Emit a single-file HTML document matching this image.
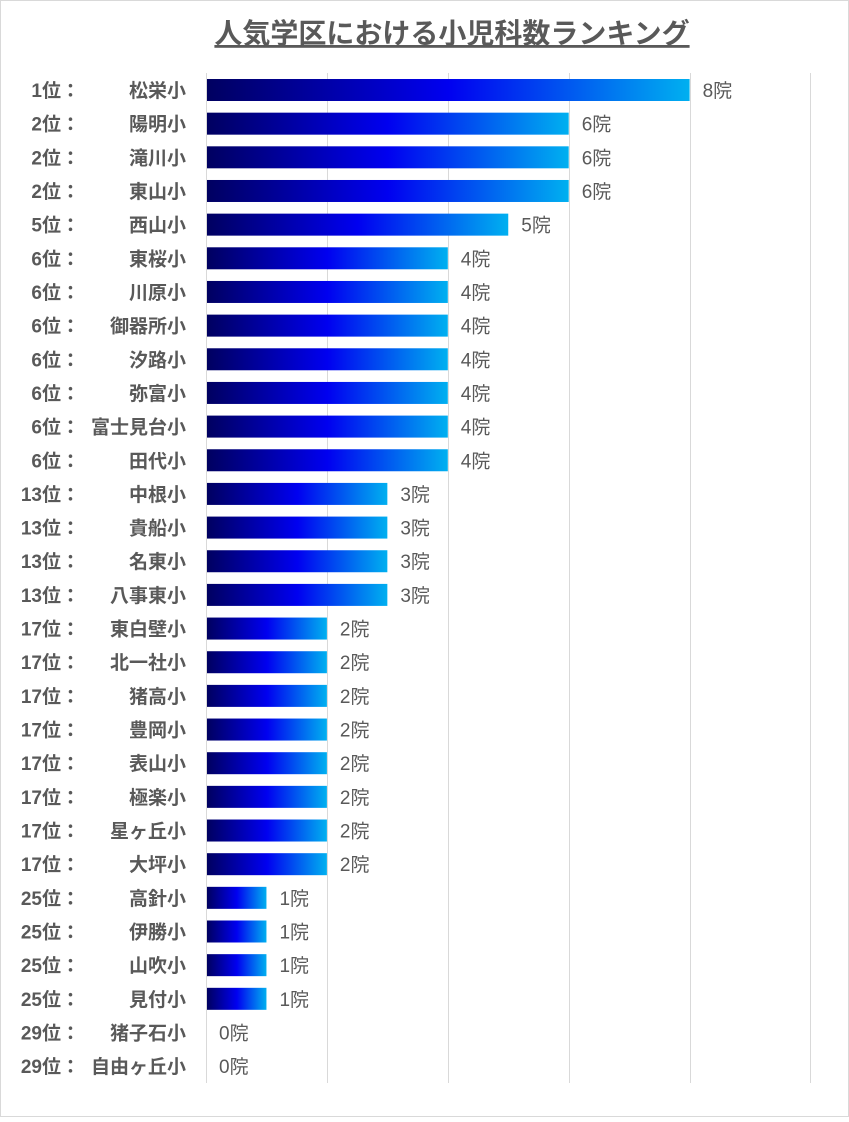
<!DOCTYPE html>
<html><head><meta charset="utf-8"><style>
html,body{margin:0;padding:0;background:#fff}
svg text{font-family:"Liberation Sans","Noto Sans CJK JP",sans-serif;fill:#595959;font-size:19px}
.b{font-weight:bold}
</style></head><body>
<svg width="849" height="1117" viewBox="0 0 849 1117" xmlns="http://www.w3.org/2000/svg">
<defs>
<linearGradient id="g" x1="0" y1="0" x2="1" y2="0">
<stop offset="0" stop-color="#000060"/>
<stop offset="0.5" stop-color="#0000f0"/>
<stop offset="1" stop-color="#00b0f0"/>
</linearGradient>
</defs>
<rect x="0.5" y="0.5" width="848" height="1116" fill="#fff" stroke="#d9d9d9"/>
<text x="452" y="43" text-anchor="middle" style="font-size:28px" class="b" text-decoration="underline">人気学区における小児科数ランキング</text>
<g stroke="#d9d9d9" stroke-width="1">
<line x1="206.5" y1="73" x2="206.5" y2="1083"/>
<line x1="327.5" y1="73" x2="327.5" y2="1083"/>
<line x1="448.5" y1="73" x2="448.5" y2="1083"/>
<line x1="569.5" y1="73" x2="569.5" y2="1083"/>
<line x1="690.5" y1="73" x2="690.5" y2="1083"/>
<line x1="810.5" y1="73" x2="810.5" y2="1083"/>
</g>
<g transform="translate(0,90)"><rect x="207" y="-11" width="482.6" height="22" fill="url(#g)"/><text x="80" y="7" text-anchor="end" class="b">1位：</text><text x="186" y="7" text-anchor="end" class="b">松栄小</text><text x="702.6" y="7">8院</text></g>
<g transform="translate(0,123.66)"><rect x="207" y="-11" width="361.7" height="22" fill="url(#g)"/><text x="80" y="7" text-anchor="end" class="b">2位：</text><text x="186" y="7" text-anchor="end" class="b">陽明小</text><text x="581.7" y="7">6院</text></g>
<g transform="translate(0,157.32)"><rect x="207" y="-11" width="361.7" height="22" fill="url(#g)"/><text x="80" y="7" text-anchor="end" class="b">2位：</text><text x="186" y="7" text-anchor="end" class="b">滝川小</text><text x="581.7" y="7">6院</text></g>
<g transform="translate(0,190.98)"><rect x="207" y="-11" width="361.7" height="22" fill="url(#g)"/><text x="80" y="7" text-anchor="end" class="b">2位：</text><text x="186" y="7" text-anchor="end" class="b">東山小</text><text x="581.7" y="7">6院</text></g>
<g transform="translate(0,224.64)"><rect x="207" y="-11" width="301.25" height="22" fill="url(#g)"/><text x="80" y="7" text-anchor="end" class="b">5位：</text><text x="186" y="7" text-anchor="end" class="b">西山小</text><text x="521.25" y="7">5院</text></g>
<g transform="translate(0,258.3)"><rect x="207" y="-11" width="240.8" height="22" fill="url(#g)"/><text x="80" y="7" text-anchor="end" class="b">6位：</text><text x="186" y="7" text-anchor="end" class="b">東桜小</text><text x="460.8" y="7">4院</text></g>
<g transform="translate(0,291.96)"><rect x="207" y="-11" width="240.8" height="22" fill="url(#g)"/><text x="80" y="7" text-anchor="end" class="b">6位：</text><text x="186" y="7" text-anchor="end" class="b">川原小</text><text x="460.8" y="7">4院</text></g>
<g transform="translate(0,325.62)"><rect x="207" y="-11" width="240.8" height="22" fill="url(#g)"/><text x="80" y="7" text-anchor="end" class="b">6位：</text><text x="186" y="7" text-anchor="end" class="b">御器所小</text><text x="460.8" y="7">4院</text></g>
<g transform="translate(0,359.28)"><rect x="207" y="-11" width="240.8" height="22" fill="url(#g)"/><text x="80" y="7" text-anchor="end" class="b">6位：</text><text x="186" y="7" text-anchor="end" class="b">汐路小</text><text x="460.8" y="7">4院</text></g>
<g transform="translate(0,392.94)"><rect x="207" y="-11" width="240.8" height="22" fill="url(#g)"/><text x="80" y="7" text-anchor="end" class="b">6位：</text><text x="186" y="7" text-anchor="end" class="b">弥富小</text><text x="460.8" y="7">4院</text></g>
<g transform="translate(0,426.6)"><rect x="207" y="-11" width="240.8" height="22" fill="url(#g)"/><text x="80" y="7" text-anchor="end" class="b">6位：</text><text x="186" y="7" text-anchor="end" class="b">富士見台小</text><text x="460.8" y="7">4院</text></g>
<g transform="translate(0,460.26)"><rect x="207" y="-11" width="240.8" height="22" fill="url(#g)"/><text x="80" y="7" text-anchor="end" class="b">6位：</text><text x="186" y="7" text-anchor="end" class="b">田代小</text><text x="460.8" y="7">4院</text></g>
<g transform="translate(0,493.92)"><rect x="207" y="-11" width="180.35" height="22" fill="url(#g)"/><text x="80" y="7" text-anchor="end" class="b">13位：</text><text x="186" y="7" text-anchor="end" class="b">中根小</text><text x="400.35" y="7">3院</text></g>
<g transform="translate(0,527.58)"><rect x="207" y="-11" width="180.35" height="22" fill="url(#g)"/><text x="80" y="7" text-anchor="end" class="b">13位：</text><text x="186" y="7" text-anchor="end" class="b">貴船小</text><text x="400.35" y="7">3院</text></g>
<g transform="translate(0,561.24)"><rect x="207" y="-11" width="180.35" height="22" fill="url(#g)"/><text x="80" y="7" text-anchor="end" class="b">13位：</text><text x="186" y="7" text-anchor="end" class="b">名東小</text><text x="400.35" y="7">3院</text></g>
<g transform="translate(0,594.9)"><rect x="207" y="-11" width="180.35" height="22" fill="url(#g)"/><text x="80" y="7" text-anchor="end" class="b">13位：</text><text x="186" y="7" text-anchor="end" class="b">八事東小</text><text x="400.35" y="7">3院</text></g>
<g transform="translate(0,628.56)"><rect x="207" y="-11" width="119.9" height="22" fill="url(#g)"/><text x="80" y="7" text-anchor="end" class="b">17位：</text><text x="186" y="7" text-anchor="end" class="b">東白壁小</text><text x="339.9" y="7">2院</text></g>
<g transform="translate(0,662.22)"><rect x="207" y="-11" width="119.9" height="22" fill="url(#g)"/><text x="80" y="7" text-anchor="end" class="b">17位：</text><text x="186" y="7" text-anchor="end" class="b">北一社小</text><text x="339.9" y="7">2院</text></g>
<g transform="translate(0,695.88)"><rect x="207" y="-11" width="119.9" height="22" fill="url(#g)"/><text x="80" y="7" text-anchor="end" class="b">17位：</text><text x="186" y="7" text-anchor="end" class="b">猪高小</text><text x="339.9" y="7">2院</text></g>
<g transform="translate(0,729.54)"><rect x="207" y="-11" width="119.9" height="22" fill="url(#g)"/><text x="80" y="7" text-anchor="end" class="b">17位：</text><text x="186" y="7" text-anchor="end" class="b">豊岡小</text><text x="339.9" y="7">2院</text></g>
<g transform="translate(0,763.2)"><rect x="207" y="-11" width="119.9" height="22" fill="url(#g)"/><text x="80" y="7" text-anchor="end" class="b">17位：</text><text x="186" y="7" text-anchor="end" class="b">表山小</text><text x="339.9" y="7">2院</text></g>
<g transform="translate(0,796.86)"><rect x="207" y="-11" width="119.9" height="22" fill="url(#g)"/><text x="80" y="7" text-anchor="end" class="b">17位：</text><text x="186" y="7" text-anchor="end" class="b">極楽小</text><text x="339.9" y="7">2院</text></g>
<g transform="translate(0,830.52)"><rect x="207" y="-11" width="119.9" height="22" fill="url(#g)"/><text x="80" y="7" text-anchor="end" class="b">17位：</text><text x="186" y="7" text-anchor="end" class="b">星ヶ丘小</text><text x="339.9" y="7">2院</text></g>
<g transform="translate(0,864.18)"><rect x="207" y="-11" width="119.9" height="22" fill="url(#g)"/><text x="80" y="7" text-anchor="end" class="b">17位：</text><text x="186" y="7" text-anchor="end" class="b">大坪小</text><text x="339.9" y="7">2院</text></g>
<g transform="translate(0,897.84)"><rect x="207" y="-11" width="59.45" height="22" fill="url(#g)"/><text x="80" y="7" text-anchor="end" class="b">25位：</text><text x="186" y="7" text-anchor="end" class="b">高針小</text><text x="279.45" y="7">1院</text></g>
<g transform="translate(0,931.5)"><rect x="207" y="-11" width="59.45" height="22" fill="url(#g)"/><text x="80" y="7" text-anchor="end" class="b">25位：</text><text x="186" y="7" text-anchor="end" class="b">伊勝小</text><text x="279.45" y="7">1院</text></g>
<g transform="translate(0,965.16)"><rect x="207" y="-11" width="59.45" height="22" fill="url(#g)"/><text x="80" y="7" text-anchor="end" class="b">25位：</text><text x="186" y="7" text-anchor="end" class="b">山吹小</text><text x="279.45" y="7">1院</text></g>
<g transform="translate(0,998.82)"><rect x="207" y="-11" width="59.45" height="22" fill="url(#g)"/><text x="80" y="7" text-anchor="end" class="b">25位：</text><text x="186" y="7" text-anchor="end" class="b">見付小</text><text x="279.45" y="7">1院</text></g>
<g transform="translate(0,1032.48)"><text x="80" y="7" text-anchor="end" class="b">29位：</text><text x="186" y="7" text-anchor="end" class="b">猪子石小</text><text x="219" y="7">0院</text></g>
<g transform="translate(0,1066.14)"><text x="80" y="7" text-anchor="end" class="b">29位：</text><text x="186" y="7" text-anchor="end" class="b">自由ヶ丘小</text><text x="219" y="7">0院</text></g>
</svg>
</body></html>
